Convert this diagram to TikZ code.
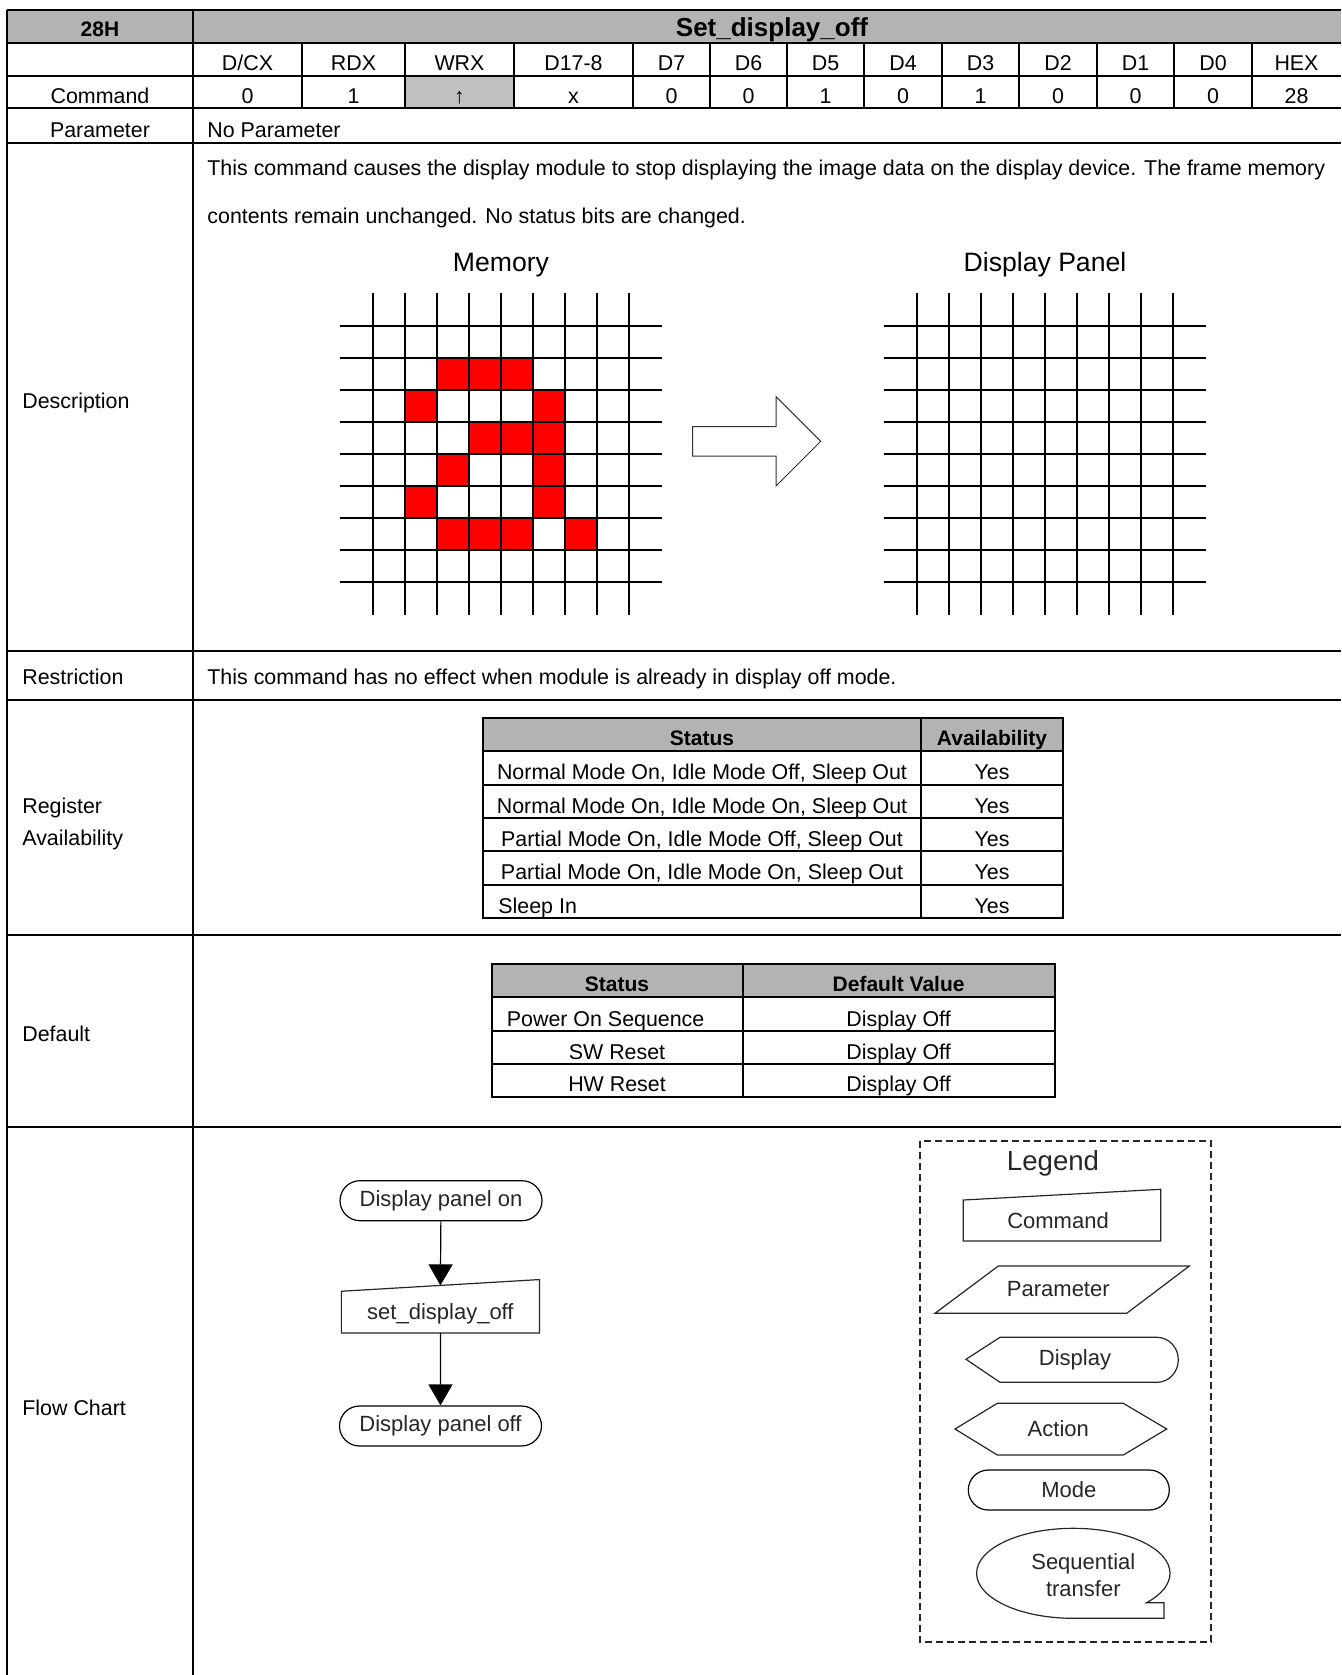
\documentclass[tikz,border=0pt]{standalone}
\usepackage{fontspec}
\setmainfont{Liberation Sans}
\usetikzlibrary{shapes.misc,arrows.meta}
\definecolor{cabecera}{RGB}{179,179,179}
\definecolor{celda}{RGB}{192,192,192}
\begin{document}
\begin{tikzpicture}[x=0.5pt,y=-0.5pt]
	\useasboundingbox (0,0) rectangle (1341,1675);
	\tikzstyle{every node}=[inner sep=0pt,font=\fontsize{10.7}{12}\selectfont]
	\tikzstyle{regla}=[line width=1pt]
	\tikzstyle{rejilla}=[line width=1.3pt]
	\tikzstyle{negrita}=[font=\fontsize{10.5}{12}\selectfont\bfseries]
	\tikzstyle{tabla}=[font=\fontsize{10.7}{12}\selectfont]
	\tikzstyle{titulo}=[font=\fontsize{13.3}{15}\selectfont]
	\tikzstyle{flujo}=[font=\fontsize{11}{13}\selectfont,text=black!85]
	\tikzstyle{modo}=[flujo,draw,rounded rectangle,line width=0.6pt]
	\tikzstyle{trazo}=[line width=0.6pt,black!85]
	\tikzstyle{flecha}=[line width=0.6pt,-{Triangle[length=10.5pt,width=12pt]}]

	\fill[cabecera] (7,10) rectangle (1341,43);
	\fill[celda] (405,76) rectangle (514,108);
	\foreach \y in {10,43,76,108,143,651,700,935,1127}
		\draw[regla] (7,\y) -- (1341,\y);
	\draw[regla] (7,10) -- (7,1675);
	\draw[regla] (193,10) -- (193,1675);
	\foreach \x in {302,405,514,633,710,787,864,942,1019,1097,1174,1252}
		\draw[regla] (\x,43) -- (\x,108);

	\node[negrita,anchor=base] (cod) at (100,37) {28H};
	\node[font=\fontsize{13}{15}\selectfont\bfseries,anchor=base] (nombre) at (772,37) {Set\_display\_off};
	\foreach \x/\t [count=\i] in {247.5/{D/CX},353.5/RDX,459.5/WRX,573.5/D17-8,671.5/D7,748.5/D6,825.5/D5,903/D4,980.5/D3,1058/D2,1135.5/D1,1213/D0,1296.5/HEX}
		\node[anchor=base] (t\i) at (\x,70.5) {\t};
	\foreach \x/\t [count=\i] in {247.5/0,353.5/1,459.5/↑,573.5/x,671.5/0,748.5/0,825.5/1,903/0,980.5/1,1058/0,1135.5/0,1213/0,1296.5/28}
		\node[anchor=base] (v\i) at (\x,104) {\t};

	\node[anchor=base] (cmdlbl) at (100,104) {Command};
	\node[anchor=base] (parlbl) at (100,137) {Parameter};
	\node[anchor=base west] (sinpar) at (207,137) {No Parameter};
	\node[anchor=base west] (desc) at (22,408) {Description};
	\node[anchor=base west] (d1) at (207,175) {This command causes the display module to stop displaying the image data on the display device. The frame memory};
	\node[anchor=base west] (d2) at (207,223) {contents remain unchanged. No status bits are changed.};
	\node[anchor=base west] (res) at (22,684) {Restriction};
	\node[anchor=base west] (res1) at (207,684) {This command has no effect when module is already in display off mode.};
	\node[anchor=base west] (reg1) at (22,813) {Register};
	\node[anchor=base west] (reg2) at (22,845) {Availability};
	\node[anchor=base west] (def) at (22,1041) {Default};
	\node[anchor=base west] (flu) at (22,1415) {Flow Chart};

	\node[titulo,anchor=base] (mem) at (501,271.5) {Memory};
	\node[titulo,anchor=base] (pan) at (1045,271.5) {Display Panel};
	\foreach \c/\r in {2/1,3/1,4/1,1/2,5/2,3/3,4/3,5/3,2/4,5/4,1/5,5/5,2/6,3/6,4/6,6/6}
		\fill[red] (373+32*\c,326+32*\r) rectangle +(32,32);
	\foreach \i in {0,...,8} {
		\draw[rejilla] (373+32*\i,293) -- (373+32*\i,615);
		\draw[rejilla] (340,326+32*\i) -- (662,326+32*\i);
		\draw[rejilla] (917+32*\i,293) -- (917+32*\i,615);
		\draw[rejilla] (884,326+32*\i) -- (1206,326+32*\i);
	}
	\draw[line width=0.5pt,black!80] (692.7,426.7) -- (776,426.7) -- (776,396.7) -- (820.7,441.3) -- (776,486) -- (776,456) -- (692.7,456) -- cycle;

	\fill[cabecera] (483,718) rectangle (1063,751.3);
	\draw[regla] (483,718) rectangle (1063,918);
	\foreach \y in {751.3,784.6,818,851.3,884.6}
		\draw[regla] (483,\y) -- (1063,\y);
	\draw[regla] (921,718) -- (921,918);
	\node[negrita,anchor=base] (st1) at (702,745) {Status};
	\node[negrita,anchor=base] (av1) at (992,745) {Availability};
	\node[tabla,anchor=base] (s1) at (702,779.8) {Normal Mode On, Idle Mode Off, Sleep Out};
	\node[tabla,anchor=base] (s2) at (702,813.1) {Normal Mode On, Idle Mode On, Sleep Out};
	\node[tabla,anchor=base] (s3) at (702,846.4) {Partial Mode On, Idle Mode Off, Sleep Out};
	\node[tabla,anchor=base] (s4) at (702,879.8) {Partial Mode On, Idle Mode On, Sleep Out};
	\node[tabla,anchor=base west] (s5) at (498,913.1) {Sleep In};
	\foreach \y [count=\i] in {779.8,813.1,846.4,879.8,913.1}
		\node[tabla,anchor=base] (y\i) at (992,\y) {Yes};

	\fill[cabecera] (491.5,964) rectangle (1054.6,997.3);
	\draw[regla] (491.5,964) rectangle (1054.6,1097.3);
	\foreach \y in {997.3,1030.6,1064}
		\draw[regla] (491.5,\y) -- (1054.6,\y);
	\draw[regla] (742.6,964) -- (742.6,1097.3);
	\node[negrita,anchor=base] (st2) at (617,991) {Status};
	\node[negrita,anchor=base] (dv) at (898.6,991) {Default Value};
	\node[tabla,anchor=base west] (p1) at (506.5,1026.5) {Power On Sequence};
	\node[tabla,anchor=base] (p2) at (617,1059.5) {SW Reset};
	\node[tabla,anchor=base] (p3) at (617,1091.5) {HW Reset};
	\foreach \y [count=\i] in {1026.5,1059.5,1091.5}
		\node[tabla,anchor=base] (o\i) at (898.6,\y) {Display Off};

	\node[modo,minimum width=101pt,minimum height=20pt] (on) at (441,1200.7) {Display panel on};
	\node[flujo,minimum width=98.65pt,minimum height=26.35pt,text height=13.4pt,text depth=0pt] (cmd) at (440.4,1306.3) {set\_display\_off};
	\draw[trazo] (cmd.south west) -- (cmd.south east) -- (cmd.north east) -- ([yshift=-5.85pt]cmd.north west) -- cycle;
	\node[modo,minimum width=101pt,minimum height=20pt] (off) at (440.5,1426) {Display panel off};
	\draw[flecha] (on) -- ([yshift=-2.9pt]cmd.north);
	\draw[flecha] (cmd) -- (off);

	\draw[trazo,dash pattern=on 3.5pt off 2pt] (920,1141) rectangle (1211,1642);
	\node[flujo,font=\fontsize{13.8}{15}\selectfont] (ley) at (1053,1163) {Legend};
	\draw[trazo] (963.3,1241) -- (1160.7,1241) -- (1160.7,1189.3) -- (963.3,1200) -- cycle;
	\node[flujo] (lcmd) at (1058,1220.7) {Command};
	\draw[trazo] (998.3,1266) -- (1189.3,1266) -- (1126.7,1313.3) -- (935,1313.3) -- cycle;
	\node[flujo] (lpar) at (1058.3,1289) {Parameter};
	\draw[trazo] (966,1359.3) -- (1000,1337.3) -- (1157,1337.3) arc[start angle=270,end angle=450,x radius=21.3,y radius=22.5] -- (1000,1382.3) -- cycle;
	\node[flujo] (ldis) at (1075,1359.3) {Display};
	\draw[trazo] (955,1429) -- (997.3,1403.3) -- (1123.3,1403.3) -- (1166.7,1429) -- (1123.3,1455) -- (997.3,1455) -- cycle;
	\node[flujo] (lact) at (1058.3,1428.3) {Action};
	\node[modo,minimum width=100.5pt,minimum height=20pt] (lmod) at (1068.8,1490) {Mode};
	\draw[trazo] (1073.3,1618.3) arc[start angle=90,end angle=400.8,x radius=96.7,y radius=45] -- (1164,1602.7) -- (1164,1618.3) -- cycle;
	\node[flujo,anchor=base] (lsq1) at (1083.3,1569.7) {Sequential};
	\node[flujo,anchor=base] (lsq2) at (1083.3,1596.3) {transfer};
\end{tikzpicture}
\end{document}
